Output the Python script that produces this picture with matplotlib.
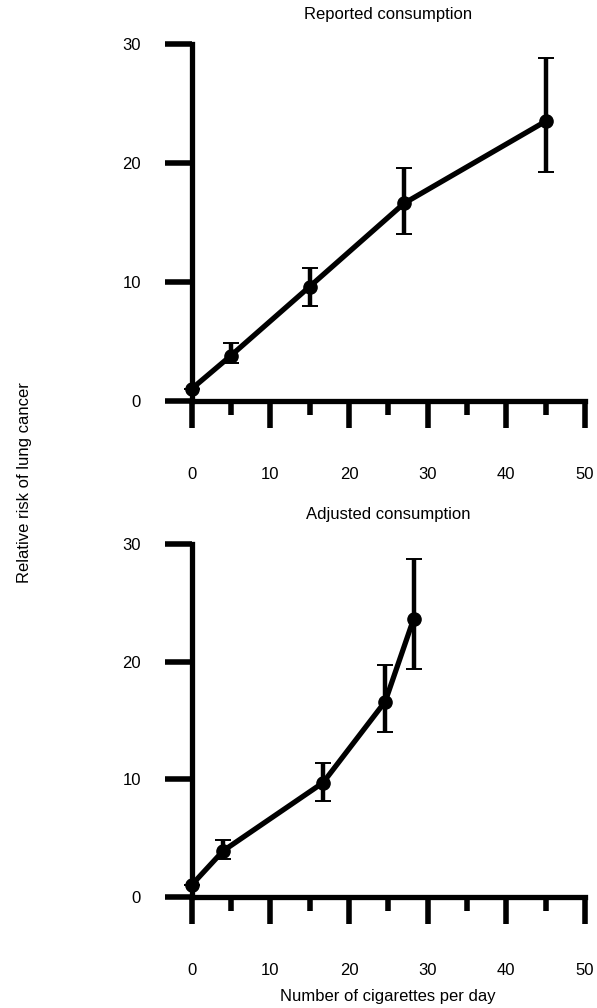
import matplotlib
matplotlib.use("Agg")
import matplotlib.pyplot as plt
from matplotlib.ticker import MultipleLocator

plt.rcParams['font.family'] = ['Liberation Sans', 'DejaVu Sans']

# Reported consumption
rep_x = [0, 5, 15, 27, 45]
rep_y = [1.0, 3.8, 9.6, 16.6, 23.5]
rep_lo = [1.0, 3.2, 8.0, 14.0, 19.2]
rep_hi = [1.0, 4.85, 11.2, 19.6, 28.8]

# Adjusted consumption
adj_x = [0, 4.0, 16.7, 24.6, 28.2]
adj_y = [1.0, 3.9, 9.7, 16.6, 23.6]
adj_lo = [1.0, 3.2, 8.1, 14.0, 19.4]
adj_hi = [1.0, 4.8, 11.4, 19.7, 28.7]

titles = ["Reported consumption", "Adjusted consumption"]
xticks = [0, 10, 20, 30, 40, 50]
yticks = [0, 10, 20, 30]

W, H = 597, 1008
fig = plt.figure(figsize=(W / 100, H / 100), dpi=100)

def px_axes(x0, y0px, x1, y1px):
    # y0px: pixel row of value 0, y1px: pixel row of top value
    return fig.add_axes([x0 / W, 1 - y0px / H, (x1 - x0) / W, (y0px - y1px) / H])

ax1 = px_axes(191.7, 400.7, 585, 44)
ax2 = px_axes(191.7, 896.7, 585, 544)

data = [(rep_x, rep_y, rep_lo, rep_hi), (adj_x, adj_y, adj_lo, adj_hi)]

for ax, (x, y, lo, hi), title in zip([ax1, ax2], data, titles):
    yerr = [[yy - l for yy, l in zip(y, lo)], [h - yy for yy, h in zip(y, hi)]]
    ax.plot(x, y, color='black', lw=3.8, marker='o', ms=9.5, clip_on=False, zorder=3,
            solid_capstyle='round')
    ax.errorbar(x, y, yerr=yerr, fmt='none', ecolor='black', elinewidth=3.2,
                capsize=6, capthick=1.4, clip_on=False, zorder=2)
    ax.set_xlim(0, 50)
    ax.set_ylim(0, 30)
    for s in ['top', 'right']:
        ax.spines[s].set_visible(False)
    for s in ['left', 'bottom']:
        ax.spines[s].set_linewidth(3.8)
    ax.set_xticks(xticks)
    ax.xaxis.set_minor_locator(MultipleLocator(5))
    ax.set_yticks(yticks)
    ax.tick_params(axis='x', which='major', length=19.7, width=4.0, direction='out',
                   pad=28, labelsize=12)
    ax.tick_params(axis='x', which='minor', length=10.4, width=4.0, direction='out')
    ax.tick_params(axis='y', which='major', length=19.5, width=4.0, direction='out',
                   pad=17, labelsize=12)
    ax.set_title(title, fontsize=12, pad=18)

fig.text(25 / W, 1 - 483 / H, "Relative risk of lung cancer", rotation=90,
         ha='center', va='center', fontsize=12)
fig.text(388 / W, 1 - 997 / H, "Number of cigarettes per day", ha='center',
         va='center', fontsize=12)

fig.savefig("out.png", dpi=100)
